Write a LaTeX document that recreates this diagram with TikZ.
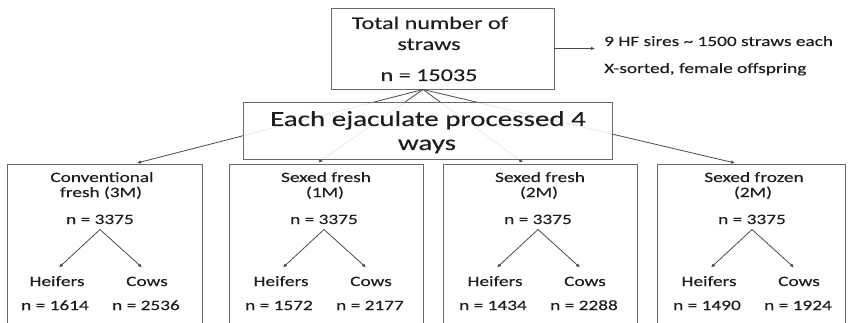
\documentclass[tikz,border=0pt]{standalone}
\usepackage{fontspec}
\setmainfont{Carlito}[FakeStretch=1.35,FakeBold=0.3]
\usetikzlibrary{arrows.meta}
\definecolor{txt}{HTML}{1E1E1E}
\definecolor{ln}{HTML}{4A4A4A}
\definecolor{bx}{HTML}{6A6A6A}
\begin{document}
\begin{tikzpicture}[x=1pt,y=-1pt,
  frame/.style={draw=bx, line width=0.9pt, inner sep=0pt},
  lbl/.style={anchor=base, inner sep=0pt, text=txt},
  big/.style={lbl, font=\fontsize{17.9}{20}\selectfont},
  huge/.style={lbl, font=\fontsize{21.5}{24}\selectfont},
  small/.style={lbl, font=\fontsize{14.3}{16}\selectfont},
  conn/.style={draw=ln, line width=0.8pt, -{Latex[length=4pt,width=3.6pt]}}]
\useasboundingbox (0,0) rectangle (848,323);
\clip (0,0) rectangle (848,323);

% top box
\node[frame, minimum width=223pt, minimum height=81pt] (top) at (442.5,48.5) {};
\node[big] (tl1) at (430,29) {Total number of};
\node[big] (tl2) at (429,50) {straws};
\node[big] (tl3) at (429,81) {n = 15035};

% side note
\coordinate (ra) at (595,48.5);
\draw[conn] (top.east) -- (ra);
\node[small, anchor=base west] (s1) at (604,46) {9 HF sires \textasciitilde{} 1500 straws each};
\node[small, anchor=base west] (s2) at (604,73) {X-sorted, female offspring};

% fan-out lines
\coordinate (apex) at (423,89.5);
\coordinate (q1) at (137,163);
\coordinate (q2) at (318,162.5);
\coordinate (q3) at (523,162.5);
\coordinate (q4) at (735,163);
\foreach \k in {1,2,3,4} {\draw[conn] (apex) -- (q\k);}

% middle box
\node[frame, fill=white, fill opacity=0.88, minimum width=369pt, minimum height=57pt] (mid) at (427.5,130.5) {};
\node[huge] (m1) at (428,126) {Each ejaculate processed 4};
\node[huge] (m2) at (427,150) {ways};

% bottom boxes
\foreach \i/\c/\w/\a/\ta/\tb/\nh/\nc in {
  1/104.5/195/100/Conventional/fresh (3M)/1614/2536,
  2/326/194/324/Sexed fresh/(1M)/1572/2177,
  3/540/194/538/Sexed fresh/(2M)/1434/2288,
  4/751/188/752/Sexed frozen/(2M)/1490/1924} {
  \node[frame, minimum width=\w pt, minimum height=200pt, anchor=north] (b\i) at (\c,164) {};
  \node[small] (ta\i) at (\a+2,182) {\ta};
  \node[small] (tb\i) at (\a+1,197) {\tb};
  \node[small] (n\i) at (\a,224) {n = 3375};
  \coordinate (s\i) at (\a,229.5);
  \coordinate (hl\i) at (\a-41,267.5);
  \coordinate (hr\i) at (\a+42,267.5);
  \draw[conn] (s\i) -- (hl\i);
  \draw[conn] (s\i) -- (hr\i);
  \node[small] (he\i) at (\a-43,286) {Heifers};
  \node[small] (co\i) at (\a+47,286) {Cows};
  \node[small] (nh\i) at (\a-45,310) {n = \nh};
  \node[small] (nc\i) at (\a+46,310) {n = \nc};
}
\end{tikzpicture}
\end{document}
